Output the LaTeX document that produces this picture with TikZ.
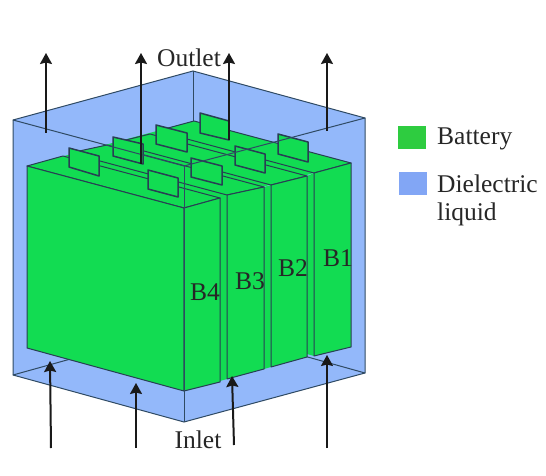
\documentclass[tikz,border=0pt]{standalone}
\usepackage{fontspec}
\setmainfont{Liberation Serif}
\usetikzlibrary{arrows.meta}
\definecolor{batgreen}{HTML}{12DC52}
\definecolor{liqblue}{HTML}{93B8FA}
\definecolor{edgecol}{HTML}{2F4A63}
\definecolor{legendgreen}{HTML}{2ECC40}
\definecolor{legendblue}{HTML}{82A6F5}
\tikzset{
  liq/.style={fill=liqblue,draw=edgecol,line width=1pt,line join=round},
  batfill/.style={fill=batgreen,draw=edgecol!85!black,line width=1pt,line join=round},
  battab/.style={fill=batgreen,draw=edgecol!85!black,line width=1.5pt,line join=round},
  wire/.style={draw=edgecol,line width=1pt},
  flow/.style={draw=black!90,line width=2pt,-{Stealth[length=11pt,width=12pt,inset=1.5pt]}},
  lab/.style={font=\fontsize{25.5pt}{29pt}\selectfont,text=black!85,inner sep=0pt},
}
\begin{document}
\begin{tikzpicture}[x=1pt,y=-1pt]
\useasboundingbox (0,0) rectangle (546,476);
% liquid box
\coordinate (LT) at (13,120);
\coordinate (BT) at (193,71);
\coordinate (RT) at (365,118);
\coordinate (FT) at (184,166);
\coordinate (LB) at (13,375);
\coordinate (RB) at (365,373);
\coordinate (FB) at (184,422);
\coordinate (BB) at (193,325);
\fill[liqblue] (LT)--(BT)--(RT)--(RB)--(FB)--(LB)--cycle;
\draw[wire] (LB)--(BB)--(RB);
\draw[wire] (BT)--(193,125);
\draw[wire] (LT)--(BT)--(RT)--(RB)--(FB)--(LB)--cycle;
% green between the batteries and on top
\fill[batgreen] (27,166)--(194,121)--(351,163)--(184,208)--cycle;
\fill[batgreen] (220,198)--(227,195)--(227,379)--(220,381)--cycle;
\fill[batgreen] (264,187)--(271,185)--(271,367)--(264,369)--cycle;
\fill[batgreen] (307,176)--(314,173)--(314,356)--(307,354)--cycle;
% B1
\draw[batfill] (314,173)--(351,163)--(194,121)--(157,131)--cycle;
\draw[batfill] (314,173)--(351,163)--(351,347)--(314,356)--cycle;
\draw[battab] (200,113)--(229,121)--(229,140)--(200,133)--cycle;
\draw[battab] (278,134)--(308,142)--(308,162)--(278,154)--cycle;
% B2
\draw[batfill] (271,185)--(307,176)--(150,134)--(114,143)--cycle;
\draw[batfill] (271,185)--(307,176)--(307,357)--(271,367)--cycle;
\draw[battab] (156,125)--(187,133)--(187,152)--(156,144)--cycle;
\draw[battab] (235,146)--(265,154)--(265,173)--(235,165)--cycle;
% B3
\draw[batfill] (227,195)--(264,187)--(107,145)--(70,153)--cycle;
\draw[batfill] (227,195)--(264,187)--(264,369)--(227,379)--cycle;
\draw[battab] (113,137)--(143,144)--(143,164)--(113,156)--cycle;
\draw[battab] (191,158)--(222,166)--(222,185)--(191,177)--cycle;
% B4
\draw[batfill] (184,208)--(220,198)--(63,156)--(27,166)--cycle;
\draw[batfill] (27,166)--(184,208)--(184,391)--(27,348)--cycle;
\draw[batfill] (184,208)--(220,198)--(220,382)--(184,391)--cycle;
\draw[battab] (69,148)--(99,156)--(99,176)--(69,167)--cycle;
\draw[battab] (148,170)--(178,178)--(178,197)--(148,189)--cycle;
% front edges of the box, over the batteries
\draw[wire] (LT)--(FT)--(RT);
\draw[wire] (FT)--(FB);
% labels
\node[lab] (b4) at (205,292) {B4};
\node[lab] (b3) at (250,281) {B3};
\node[lab] (b2) at (293,268) {B2};
\node[lab] (b1) at (338,258) {B1};
\node[lab] (outlet) at (189,58) {Outlet};
\node[lab] (inlet) at (198,440) {Inlet};
% flow arrows
\coordinate (o1a) at (46,133); \coordinate (o1b) at (46,53);
\coordinate (o2a) at (141,164); \coordinate (o2b) at (141,53);
\coordinate (o3a) at (229,140); \coordinate (o3b) at (229,53);
\coordinate (o4a) at (327,131); \coordinate (o4b) at (327,53);
\coordinate (i1a) at (51,448); \coordinate (i1b) at (50,361);
\coordinate (i2a) at (136,448); \coordinate (i2b) at (136,383);
\coordinate (i3a) at (234,445); \coordinate (i3b) at (232,376);
\coordinate (i4a) at (327,448); \coordinate (i4b) at (327,355);
\foreach \n in {o1,o2,o3,o4,i1,i2,i3,i4} \draw[flow] (\n a)--(\n b);
% legend
\fill[legendgreen] (398,126) rectangle (426,149);
\fill[legendblue] (399,172) rectangle (427,195);
\node[lab,anchor=west] (legbat) at (437,139) {Battery};
\node[lab,anchor=west] (legliq1) at (437,184) {Dielectric};
\node[lab,anchor=west] (legliq2) at (437,214) {liquid};
\end{tikzpicture}
\end{document}
